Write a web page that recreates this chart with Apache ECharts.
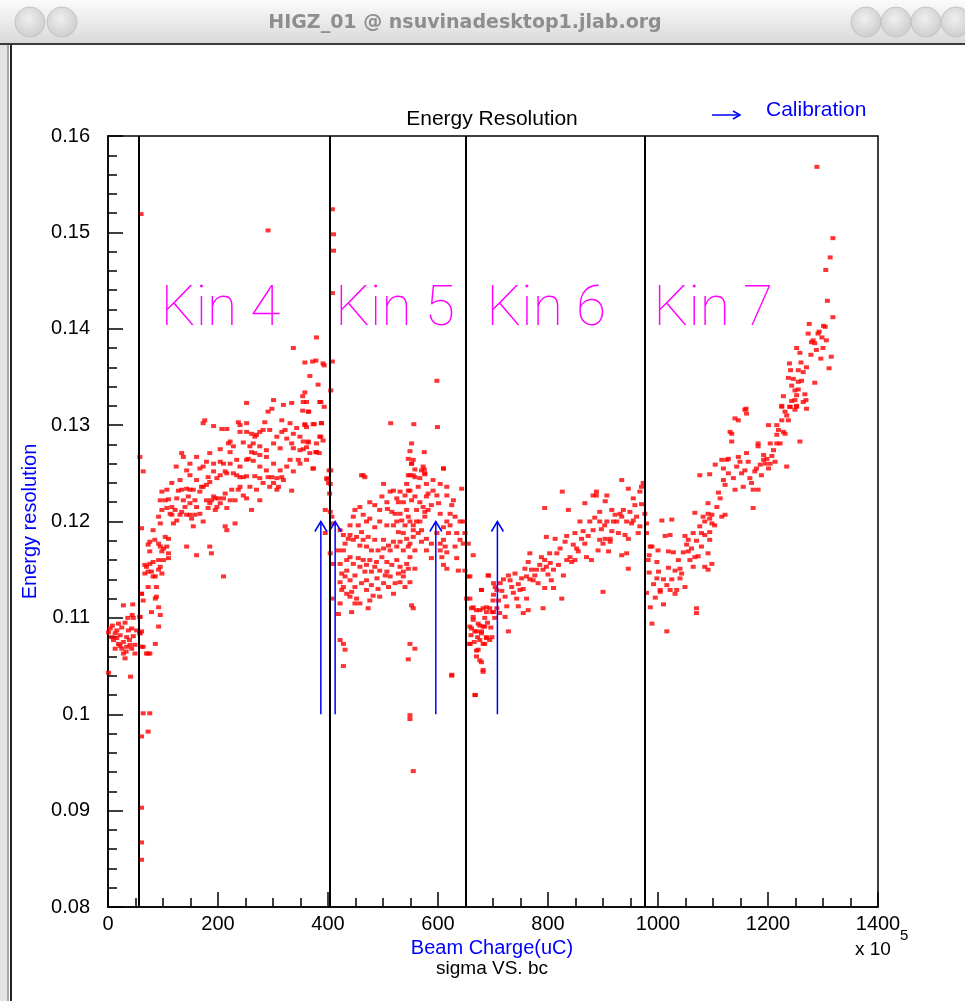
<!DOCTYPE html>
<html>
<head>
<meta charset="utf-8">
<title>Energy Resolution</title>
<script src="https://cdn.jsdelivr.net/npm/echarts@6/dist/echarts.min.js"></script>
<style>
  html, body { margin: 0; padding: 0; background: #ffffff; }
  #chart { width: 965px; height: 1001px; }
</style>
</head>
<body>
<div id="chart"></div>
<script>
// Beam charge (x 10^5 uC) vs. energy resolution (sigma), one array per run period.
const seg0 = [
  [1,0.1043],[1,0.1085],[4,0.1089],[7,0.1080],[10,0.1077],[13,0.1084],[13,0.1068],[16,0.1087],
  [16,0.1079],[19,0.1094],[19,0.1073],[22,0.1082],[22,0.1071],[25,0.1068],[28,0.1113],[28,0.1075],
  [28,0.1063],[31,0.1095],[31,0.1058],[33,0.1065],[34,0.1080],[34,0.1070],[37,0.1087],[39,0.1077],
  [40,0.1072],[41,0.1039],[43,0.1089],[43,0.1068],[44,0.1103],[45,0.1114],[46,0.1100],[46,0.1081],
  [49,0.1072],[49,0.1063],[52,0.1087],[8,0.1092],[36,0.1100],[25,0.1090]
];
const kin4 = [
  [60,0.1519],[58,0.1267],[64,0.1252],[61,0.1193],[61,0.1125],[58,0.1101],[61,0.1086],[58,0.1084],
  [61,0.1070],[64,0.1070],[64,0.1001],[76,0.1001],[73,0.0982],[61,0.0977],[61,0.0903],[61,0.0867],
  [61,0.0849],[73,0.1063],
  [252,0.1323],[301,0.1326],[319,0.1321],[334,0.1323],[355,0.1324],[364,0.1314],[385,0.1324],[291,0.1314],
  [298,0.1317],[173,0.1302],[176,0.1305],[192,0.1299],[207,0.1296],[216,0.1296],[237,0.1303],[240,0.1300],
  [252,0.1302],[240,0.1293],[252,0.1293],[261,0.1291],[270,0.1290],[276,0.1293],[282,0.1295],[267,0.1288],
  [285,0.1303],[316,0.1305],[331,0.1302],[343,0.1297],[358,0.1300],[373,0.1301],[388,0.1302],[322,0.1295],
  [316,0.1293],[301,0.1281],[313,0.1276],[334,0.1281],[337,0.1276],[349,0.1274],[355,0.1283],[364,0.1283],
  [385,0.1288],[379,0.1272],[222,0.1283],[219,0.1281],[204,0.1275],[246,0.1282],[228,0.1278],[258,0.1278],
  [261,0.1272],[267,0.1271],[276,0.1269],[288,0.1267],[255,0.1265],[252,0.1264],[264,0.1263],[222,0.1272],
  [204,0.1262],[210,0.1260],[222,0.1260],[179,0.1262],[167,0.1255],[173,0.1257],[134,0.1271],[137,0.1267],
  [124,0.1257],[149,0.1248],[161,0.1243],[170,0.1236],[179,0.1238],[182,0.1246],[185,0.1241],[192,0.1252],
  [198,0.1245],[204,0.1248],[213,0.1252],[216,0.1250],[228,0.1250],[234,0.1248],[240,0.1246],[246,0.1246],
  [252,0.1247],[267,0.1247],[276,0.1245],[288,0.1253],[291,0.1246],[298,0.1246],[307,0.1245],[316,0.1246],
  [319,0.1243],[310,0.1236],[307,0.1233],[334,0.1232],[346,0.1264],[331,0.1264],[373,0.1255],[402,0.1253],
  [398,0.1245],[401,0.1240],[403,0.1229],[98,0.1231],[128,0.1232],[134,0.1233],[143,0.1234],[149,0.1233],
  [155,0.1233],[146,0.1226],[149,0.1219],[158,0.1222],[167,0.1231],[173,0.1236],[125,0.1224],[95,0.1222],
  [110,0.1223],[113,0.1208],[116,0.1207],[131,0.1207],[134,0.1210],[125,0.1201],[119,0.1198],[149,0.1207],
  [158,0.1207],[152,0.1203],[155,0.1195],[173,0.1200],[182,0.1214],[185,0.1219],[195,0.1224],[201,0.1224],
  [192,0.1226],[188,0.1222],[210,0.1224],[213,0.1229],[198,0.1215],[216,0.1214],[231,0.1222],[237,0.1233],
  [246,0.1227],[252,0.1224],[276,0.1222],[261,0.1212],[231,0.1198],[213,0.1195],[216,0.1191],[107,0.1214],
  [95,0.1198],[76,0.1179],[73,0.1176],[92,0.1177],[95,0.1174],[101,0.1172],[107,0.1174],[104,0.1184],
  [110,0.1182],[98,0.1169],[110,0.1167],[110,0.1162],[92,0.1160],[95,0.1153],[98,0.1146],[92,0.1150],
  [82,0.1158],[76,0.1156],[70,0.1153],[73,0.1148],[79,0.1148],[67,0.1146],[86,0.1143],[67,0.1155],
  [143,0.1174],[161,0.1165],[185,0.1174],[188,0.1167],[210,0.1143],[61,0.1125],[88,0.1132],[88,0.1122],
  [86,0.1120],[92,0.1111],[79,0.1106],[95,0.1103],[92,0.1091],[86,0.1073],[70,0.1063],[76,0.1063],
  [58,0.1101],[58,0.1084],[291,0.1502],[337,0.1380],[379,0.1391],[358,0.1365],[372,0.1366],[378,0.1367],
  [391,0.1364],[393,0.1362],[367,0.1351],[382,0.1342],[358,0.1334],[354,0.1330],[361,0.1324],[387,0.1324],
  [393,0.1319],[354,0.1315],[365,0.1314],[358,0.1301],[375,0.1301],[388,0.1302],[361,0.1298],[387,0.1288],
  [364,0.1282],[355,0.1275],[361,0.1277],[378,0.1272],[384,0.1271],[373,0.1255],[398,0.1244],[379,0.1272],
  [395,0.1212],[395,0.1188],
  [104,0.1222],[116,0.1215],[122,0.1212],[137,0.1222],[140,0.1215],[143,0.1207],[161,0.1215],[167,0.1208],
  [179,0.1222],[195,0.1212],[204,0.1219],[222,0.1222],[225,0.1233],[240,0.1236],[258,0.1236],[270,0.1233],
  [282,0.1240],[294,0.1236],[301,0.1240],[313,0.1253],[325,0.1257],[337,0.1252],[349,0.1260],[361,0.1264],
  [367,0.1271],[379,0.1281],[391,0.1284],[349,0.1288],[337,0.1291],[325,0.1286],[307,0.1288],[294,0.1295],
  [264,0.1281],[276,0.1278],[288,0.1274],[301,0.1260],[276,0.1257],[240,0.1257],[234,0.1264],[192,0.1260],
  [185,0.1271],[161,0.1267],[149,0.1260],[143,0.1253],[131,0.1243],[116,0.1240],[107,0.1233],[98,0.1212],
  [92,0.1205],[82,0.1191],[85,0.1181],[76,0.1169],[101,0.1160],[82,0.1143],[73,0.1132],[64,0.1118]
];
const kin5 = [
  [408,0.1524],[410,0.1498],[410,0.1481],[408,0.1437],[408,0.1366],[405,0.1336],[405,0.1253],[404,0.1239],
  [404,0.1210],[407,0.1205],[410,0.1198],[404,0.1167],[410,0.1156],[407,0.1120],[419,0.1104],[422,0.1077],
  [428,0.1073],[431,0.1067],[428,0.1050],
  [598,0.1346],[514,0.1302],[556,0.1301],[599,0.1298],[552,0.1281],[549,0.1273],[575,0.1272],[552,0.1260],
  [558,0.1254],[575,0.1254],[610,0.1255],[546,0.1248],[555,0.1248],[576,0.1249],[464,0.1248],
  [461,0.1248],[467,0.1246],[501,0.1239],[513,0.1231],[476,0.1220],[525,0.1224],[528,0.1220],[537,0.1220],
  [507,0.1220],[508,0.1213],[494,0.1212],[449,0.1212],[464,0.1207],[476,0.1203],[470,0.1200],[494,0.1200],
  [516,0.1210],[522,0.1208],[531,0.1208],[543,0.1212],[534,0.1201],[546,0.1205],[549,0.1200],[540,0.1196],
  [555,0.1196],[561,0.1200],[567,0.1200],[576,0.1210],[582,0.1212],[576,0.1205],[573,0.1215],[588,0.1217],
  [601,0.1219],[616,0.1227],[625,0.1217],[591,0.1232],[582,0.1229],[598,0.1227],[564,0.1236],[558,0.1226],
  [552,0.1222],[546,0.1232],[543,0.1239],[549,0.1248],[558,0.1246],[570,0.1253],[576,0.1250],[610,0.1255],
  [643,0.1234],[640,0.1200],[616,0.1200],[622,0.1196],[619,0.1188],[610,0.1181],[613,0.1174],[604,0.1170],
  [616,0.1168],[607,0.1163],[610,0.1155],[616,0.1151],[634,0.1162],[631,0.1174],[637,0.1149],[646,0.1177],
  [640,0.1181],[646,0.1200],[440,0.1186],[431,0.1177],[446,0.1181],[461,0.1189],[458,0.1175],[470,0.1174],
  [479,0.1170],[491,0.1170],[501,0.1172],[513,0.1170],[519,0.1179],[528,0.1189],[537,0.1188],[543,0.1182],
  [549,0.1177],[555,0.1184],[558,0.1170],[570,0.1179],[579,0.1170],[588,0.1162],[549,0.1163],[543,0.1156],
  [546,0.1151],[558,0.1151],[537,0.1143],[531,0.1137],[549,0.1137],[540,0.1132],[519,0.1125],[494,0.1122],
  [482,0.1123],[476,0.1118],[470,0.1129],[467,0.1148],[458,0.1153],[449,0.1144],[440,0.1139],[431,0.1143],
  [425,0.1146],[422,0.1137],[425,0.1129],[434,0.1125],[443,0.1127],[452,0.1120],[458,0.1115],[443,0.1106],
  [422,0.1115],[473,0.1110],[449,0.1132],[489,0.1141],[504,0.1144],[513,0.1143],[476,0.1160],[485,0.1153],
  [494,0.1149],[507,0.1148],[434,0.1160],[428,0.1170],[419,0.1170],[422,0.1156],[552,0.1113],[555,0.1110],
  [549,0.1073],[558,0.1068],[546,0.1057],[549,0.0999],[549,0.0995],[555,0.0941],[625,0.1040],[649,0.1149],
  [649,0.1188],
  [422,0.1191],[428,0.1186],[437,0.1182],[452,0.1184],[464,0.1181],[473,0.1184],[485,0.1181],[501,0.1181],
  [510,0.1175],[525,0.1174],[531,0.1179],[537,0.1170],[546,0.1174],[555,0.1191],[564,0.1188],[570,0.1191],
  [579,0.1182],[588,0.1177],[598,0.1188],[604,0.1177],[440,0.1163],[446,0.1156],[455,0.1162],[464,0.1160],
  [470,0.1155],[479,0.1148],[488,0.1158],[498,0.1163],[507,0.1158],[516,0.1155],[525,0.1160],[531,0.1153],
  [537,0.1148],[434,0.1149],[428,0.1132],[440,0.1122],[449,0.1115],[461,0.1136],[470,0.1139],[479,0.1134],
  [491,0.1130],[501,0.1136],[510,0.1132],[522,0.1136],[528,0.1146],[549,0.1232],[540,0.1227],[531,0.1231],
  [519,0.1232],[498,0.1226],[485,0.1217],[458,0.1215],[446,0.1205],[440,0.1196],[455,0.1196],[485,0.1194],
  [507,0.1196],[519,0.1196],[525,0.1200],[561,0.1212],[567,0.1220],[579,0.1226],[604,0.1208],[610,0.1194],
  [622,0.1208],[628,0.1222],[634,0.1188],[631,0.1205],[567,0.1245],[579,0.1239],[591,0.1243],[604,0.1239],
  [616,0.1236],[552,0.1260],[573,0.1257],[546,0.1265],[555,0.1264]
];
const kin6 = [
  [658,0.1143],[664,0.1111],[676,0.1108],[688,0.1111],[698,0.1106],[707,0.1110],[664,0.1101],[673,0.1094],
  [682,0.1091],[658,0.1091],[667,0.1086],[679,0.1086],[688,0.1080],[676,0.1077],[685,0.1073],[658,0.1073],
  [670,0.1066],[676,0.1056],[682,0.1046],[667,0.1020],[692,0.1144],[701,0.1136],[707,0.1129],[679,0.1129],
  [652,0.1120],[655,0.1177],[655,0.1143],[658,0.1120],[664,0.1165],[661,0.1110],[670,0.1108],[682,0.1110],
  [694,0.1110],[701,0.1106],[688,0.1106],[664,0.1098],[676,0.1092],[685,0.1091],[661,0.1089],[670,0.1086],
  [679,0.1084],[688,0.1079],[682,0.1073],[694,0.1077],[658,0.1073],[673,0.1067],[670,0.1060],[679,0.1054],
  [682,0.1044],[698,0.1080],[668,0.1020],[679,0.1129],[691,0.1144],[704,0.1132],[701,0.1124],[713,0.1136],
  [710,0.1118],[722,0.1122],[728,0.1144],[731,0.1139],[734,0.1132],[743,0.1120],[725,0.1112],[722,0.1101],
  [728,0.1086],[746,0.1112],[749,0.1129],[752,0.1141],[758,0.1151],[767,0.1167],[764,0.1158],[761,0.1143],
  [770,0.1150],[755,0.1105],[764,0.1108],[773,0.1139],[776,0.1144],[782,0.1136],[785,0.1155],[794,0.1160],
  [791,0.1150],[797,0.1153],[804,0.1157],[810,0.1150],[806,0.1139],[794,0.1131],[810,0.1131],[791,0.1110],
  [797,0.1184],[813,0.1182],[816,0.1167],[831,0.1179],[828,0.1144],[825,0.1120],[834,0.1160],[840,0.1163],
  [843,0.1158],[852,0.1172],[855,0.1169],[858,0.1200],[849,0.1188],[861,0.1182],[867,0.1177],[870,0.1163],
  [879,0.1160],[882,0.1191],[891,0.1170],[894,0.1181],[900,0.1177],[904,0.1182],[913,0.1179],[910,0.1169],
  [913,0.1182],[919,0.1200],[907,0.1200],[894,0.1210],[894,0.1200],[916,0.1212],[922,0.1207],[931,0.1208],
  [934,0.1205],[925,0.1200],[888,0.1227],[882,0.1227],[907,0.1227],[904,0.1221],[888,0.1231],[867,0.1219],
  [943,0.1200],[952,0.1198],[955,0.1201],[964,0.1188],[946,0.1182],[940,0.1186],[943,0.1167],[934,0.1165],
  [946,0.1151],[900,0.1127],[934,0.1243],[946,0.1234],[955,0.1224],[958,0.1217],[967,0.1231],[970,0.1236],
  [973,0.1240],[826,0.1231],[794,0.1214],[837,0.1212],[625,0.1041],
  [700,0.1118],[716,0.1128],[719,0.1140],[737,0.1126],[740,0.1146],[746,0.1135],[755,0.1130],[761,0.1120],
  [767,0.1140],[779,0.1150],[788,0.1163],[800,0.1145],[803,0.1167],[819,0.1155],[822,0.1172],[834,0.1185],
  [846,0.1176],[849,0.1160],[864,0.1190],[873,0.1185],[876,0.1200],[885,0.1204],[897,0.1192],[903,0.1196],
  [916,0.1190],[928,0.1188],[937,0.1212],[949,0.1210],[961,0.1205],[967,0.1195],[970,0.1218],[660,0.1082],
  [666,0.1075],[672,0.1080],[690,0.1095],[696,0.1090],[703,0.1100],[712,0.1105],[685,0.1100]
];
const kin7 = [
  [976,0.1208],[979,0.1198],[979,0.1188],[986,0.1174],[989,0.1174],[984,0.1165],[998,0.1158],[984,0.1147],
  [1001,0.1148],[998,0.1141],[979,0.1126],[995,0.1121],[1004,0.1129],[986,0.1111],[1010,0.1114],[989,0.1094],
  [1016,0.1086],[1007,0.1201],[1025,0.1202],[1013,0.1185],[1022,0.1186],[1019,0.1169],[1028,0.1168],[1016,0.1134],
  [1022,0.1129],[1031,0.1125],[1031,0.1149],[1040,0.1151],[1043,0.1146],[1040,0.1141],[1049,0.1132],[1034,0.1129],
  [1049,0.1185],[1055,0.1181],[1064,0.1188],[1079,0.1188],[1085,0.1186],[1094,0.1189],[1094,0.1181],[1079,0.1174],
  [1052,0.1176],[1055,0.1169],[1067,0.1163],[1073,0.1164],[1091,0.1167],[1098,0.1156],[1085,0.1153],[1091,0.1150],
  [1064,0.1153],[1070,0.1110],[1070,0.1105],[1067,0.1209],[1082,0.1205],[1091,0.1208],[1098,0.1207],[1094,0.1203],
  [1091,0.1219],[1107,0.1215],[1113,0.1224],[1122,0.1207],[1116,0.1205],[1098,0.1198],[1076,0.1248],[1094,0.1249],
  [1104,0.1259],[1119,0.1243],[1122,0.1238],[1116,0.1264],[1125,0.1264],[1128,0.1265],[1140,0.1233],[1155,0.1236],
  [1173,0.1233],[1182,0.1233],[1173,0.1214],[1167,0.1245],[1176,0.1252],[1179,0.1255],[1186,0.1259],[1192,0.1264],
  [1198,0.1265],[1195,0.1260],[1201,0.1255],[1204,0.1260],[1164,0.1262],[1149,0.1262],[1143,0.1257],[1146,0.1267],
  [1161,0.1271],[1158,0.1253],[1192,0.1269],[1234,0.1257],[1182,0.1278],[1182,0.1281],[1204,0.1281],[1216,0.1281],
  [1222,0.1281],[1210,0.1274],[1216,0.1290],[1228,0.1293],[1231,0.1291],[1201,0.1300],[1216,0.1300],[1237,0.1305],
  [1258,0.1283],[1131,0.1293],[1134,0.1291],[1134,0.1283],[1140,0.1307],[1146,0.1305],[1158,0.1316],[1161,0.1312],
  [1225,0.1320],[1231,0.1314],[1240,0.1319],[1249,0.1316],[1252,0.1320],[1264,0.1324],[1270,0.1317],[1004,0.1127],
  [1289,0.1568],[1318,0.1494],[1313,0.1474],[1305,0.1461],[1308,0.1429],[1318,0.1412],[1275,0.1405],[1301,0.1403],
  [1304,0.1402],[1293,0.1397],[1273,0.1395],[1282,0.1388],[1279,0.1386],[1285,0.1385],[1298,0.1391],[1252,0.1380],
  [1258,0.1375],[1278,0.1373],[1296,0.1369],[1315,0.1371],[1311,0.1359],[1239,0.1364],[1260,0.1365],[1241,0.1357],
  [1255,0.1357],[1237,0.1349],[1246,0.1348],[1261,0.1346],[1285,0.1344],[1243,0.1341],[1249,0.1336],[1255,0.1337],
  [1252,0.1331],[1267,0.1332],[1228,0.1330],[1269,0.1326],[1249,0.1326],[1225,0.1319],[1240,0.1319],[1252,0.1319],
  [1160,0.1317],
  [982,0.1160],[992,0.1135],[1000,0.1170],[1010,0.1140],[1019,0.1152],[1025,0.1140],[1037,0.1160],[1046,0.1168],
  [1058,0.1160],[1061,0.1172],[1070,0.1180],[1076,0.1195],[1085,0.1200],[1103,0.1196],[1110,0.1230],[1119,0.1255],
  [1128,0.1250],[1137,0.1245],[1152,0.1250],[1170,0.1240],[1188,0.1248],[1207,0.1268],[1213,0.1262],[1219,0.1295],
  [1225,0.1305],[1234,0.1310],[1243,0.1325],[1255,0.1345],[1264,0.1355],[1270,0.1360],[1288,0.1378],[1291,0.1395],
  [1300,0.1380],[1306,0.1388]
];

// Run-period boundaries and calibration markers (x in 10^5 uC).
const boundaryX = [56, 404, 651, 976];
const calibrationX = [387, 413, 596, 708];
const calibrationFrom = 0.10;
const calibrationTo = 0.12;
const kinNames = ['Kin 4', 'Kin 5', 'Kin 6', 'Kin 7'];
const kinLabelX = [96, 413, 688, 992];
const kinLabelY = 0.139;

const BLUE = '#0000ff';
const MAGENTA = '#ff00ff';
const TEXT_FONT = 'Liberation Sans, Arial, Helvetica, sans-serif';

const chart = echarts.init(document.getElementById('chart'), null, { renderer: 'canvas' });

function windowChrome() {
  const items = [];
  // title bar
  items.push({ type: 'rect', shape: { x: 0, y: 0, width: 965, height: 44 },
    style: { fill: new echarts.graphic.LinearGradient(0, 0, 0, 1, [
      { offset: 0, color: '#fbfbfb' }, { offset: 1, color: '#d9d9d9' }]) }, silent: true });
  items.push({ type: 'rect', shape: { x: 0, y: 43, width: 965, height: 2 }, style: { fill: '#3a3a3a' }, silent: true });
  // left frame edge
  items.push({ type: 'rect', shape: { x: 0, y: 45, width: 8, height: 956 }, style: { fill: '#e4e4e4' }, silent: true });
  items.push({ type: 'rect', shape: { x: 7, y: 45, width: 2, height: 956 }, style: { fill: '#a8a8a8' }, silent: true });
  items.push({ type: 'rect', shape: { x: 10, y: 45, width: 2, height: 956 }, style: { fill: '#202020' }, silent: true });
  const circleFill = new echarts.graphic.RadialGradient(0.45, 0.4, 0.6, [
    { offset: 0, color: '#efefef' }, { offset: 1, color: '#cdcdcd' }]);
  [30, 62].concat([866, 896, 926, 956]).forEach(function (cx) {
    items.push({ type: 'circle', shape: { cx: cx, cy: 22, r: 15 },
      style: { fill: circleFill, stroke: '#c4c4c4', lineWidth: 1 }, silent: true });
  });
  items.push({ type: 'text', x: 465, y: 23, silent: true,
    style: { text: 'HIGZ_01 @ nsuvinadesktop1.jlab.org', fill: '#8e8e8e',
      font: 'bold 19px "DejaVu Sans", sans-serif', align: 'center', verticalAlign: 'middle' } });
  return items;
}

function plotTexts() {
  return [
    { type: 'text', x: 492, y: 119, silent: true,
      style: { text: 'Energy Resolution', fill: '#000', font: '21px ' + TEXT_FONT, align: 'center', verticalAlign: 'middle' } },
    { type: 'line', shape: { x1: 712, y1: 115, x2: 740, y2: 115 }, silent: true,
      style: { stroke: BLUE, lineWidth: 1.5 } },
    { type: 'polyline', shape: { points: [[733, 111], [740, 115], [733, 119]] }, silent: true,
      style: { stroke: BLUE, lineWidth: 1.5, fill: null } },
    { type: 'text', x: 766, y: 110, silent: true,
      style: { text: 'Calibration', fill: BLUE, font: '21px ' + TEXT_FONT, align: 'left', verticalAlign: 'middle' } },
    { type: 'text', x: 492, y: 948, silent: true,
      style: { text: 'Beam Charge(uC)', fill: BLUE, font: '20px ' + TEXT_FONT, align: 'center', verticalAlign: 'middle' } },
    { type: 'text', x: 492, y: 969, silent: true,
      style: { text: 'sigma VS. bc', fill: '#000', font: '19px ' + TEXT_FONT, align: 'center', verticalAlign: 'middle' } },
    { type: 'text', x: 855, y: 950, silent: true,
      style: { text: 'x 10', fill: '#000', font: '19px ' + TEXT_FONT, align: 'left', verticalAlign: 'middle' } },
    { type: 'text', x: 900, y: 936, silent: true,
      style: { text: '5', fill: '#000', font: '15px ' + TEXT_FONT, align: 'left', verticalAlign: 'middle' } }
  ];
}

const option = {
  backgroundColor: '#ffffff',
  animation: false,
  grid: { left: 108, right: 87, top: 136, bottom: 94, show: true, borderColor: '#000', borderWidth: 1.5, backgroundColor: '#fff' },
  xAxis: {
    type: 'value', min: 0, max: 1400, interval: 200,
    axisLine: { show: true, onZero: false, lineStyle: { color: '#000', width: 1.5 } },
    axisTick: { inside: true, length: 15, lineStyle: { color: '#000', width: 1.5 } },
    minorTick: { show: true, splitNumber: 4, length: 9, lineStyle: { color: '#000', width: 1.5 } },
    splitLine: { show: false },
    axisLabel: { color: '#000', fontSize: 20, fontFamily: TEXT_FONT, margin: 7,
      formatter: function (v) { return String(v); } }
  },
  yAxis: {
    type: 'value', min: 0.08, max: 0.16, interval: 0.01,
    name: 'Energy resolution', nameLocation: 'middle', nameGap: 63, nameRotate: 90,
    nameTextStyle: { color: BLUE, fontSize: 20, fontFamily: TEXT_FONT },
    axisLine: { show: true, onZero: false, lineStyle: { color: '#000', width: 1.5 } },
    axisTick: { inside: true, length: 15, lineStyle: { color: '#000', width: 1.5 } },
    minorTick: { show: true, splitNumber: 5, length: 9, lineStyle: { color: '#000', width: 1.5 } },
    splitLine: { show: false },
    axisLabel: { color: '#000', fontSize: 20, fontFamily: TEXT_FONT, margin: 18 }
  },
  series: [
    {
      name: 'sigma', type: 'scatter',
      data: seg0.concat(kin4, kin5, kin6, kin7),
      symbol: 'rect', symbolSize: [5, 4],
      itemStyle: { color: '#ff0000' },
      silent: true,
      markLine: {
        silent: true, symbol: 'none', animation: false,
        label: { show: false },
        lineStyle: { color: '#000', width: 2, type: 'solid' },
        emphasis: { disabled: true },
        data: boundaryX.map(function (x) { return { xAxis: x }; })
      },
      z: 3
    },
    {
      name: 'calibration', type: 'custom', silent: true, z: 4,
      data: calibrationX.map(function (x) { return [x, calibrationFrom, calibrationTo]; }),
      encode: { x: 0, y: [1, 2] },
      renderItem: function (params, api) {
        const x = api.value(0);
        const p0 = api.coord([x, api.value(1)]);
        const p1 = api.coord([x, api.value(2)]);
        return {
          type: 'group',
          children: [
            { type: 'line', shape: { x1: p0[0], y1: p0[1], x2: p1[0], y2: p1[1] },
              style: { stroke: BLUE, lineWidth: 1.5 } },
            { type: 'polyline', shape: { points: [[p1[0] - 6, p1[1] + 10], [p1[0], p1[1]], [p1[0] + 6, p1[1] + 10]] },
              style: { stroke: BLUE, lineWidth: 1.5, fill: null } }
          ]
        };
      }
    },
    {
      name: 'kin', type: 'custom', silent: true, z: 2,
      data: kinNames.map(function (n, i) { return [kinLabelX[i], kinLabelY]; }),
      renderItem: function (params, api) {
        const p = api.coord([api.value(0), api.value(1)]);
        return {
          type: 'text', x: p[0], y: p[1],
          style: { text: kinNames[params.dataIndex], fill: MAGENTA,
            font: '100 55px Roboto, "Liberation Sans", sans-serif', align: 'left', verticalAlign: 'bottom' }
        };
      }
    }
  ],
  graphic: windowChrome().concat(plotTexts())
};

chart.setOption(option);
</script>
</body>
</html>
